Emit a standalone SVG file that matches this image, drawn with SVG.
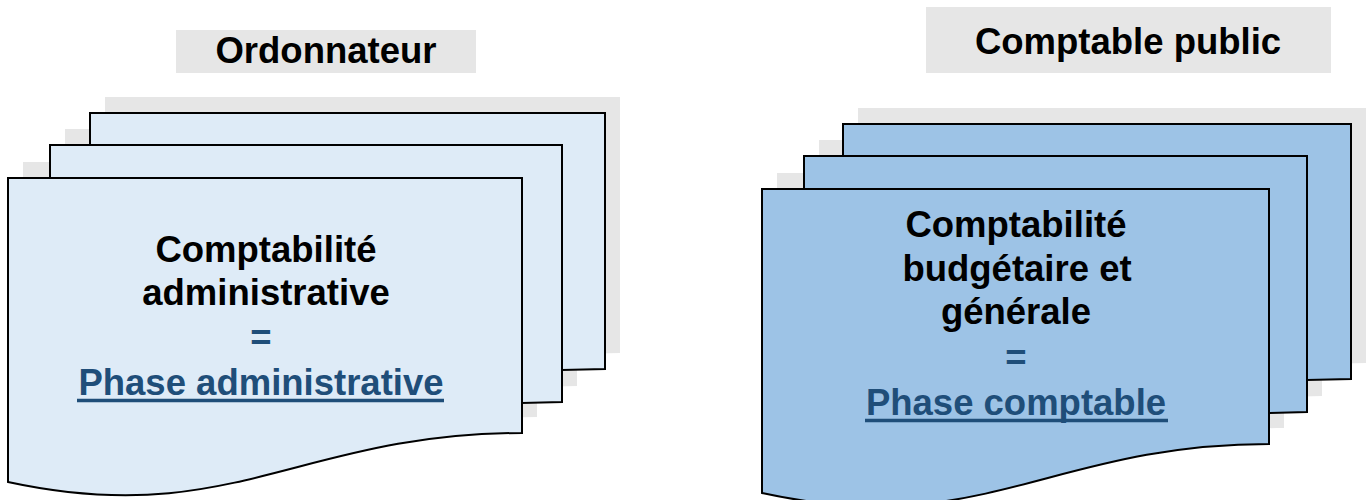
<svg xmlns="http://www.w3.org/2000/svg" width="1369" height="500" viewBox="0 0 1369 500">
  <style>
    .title-box { fill: #E6E6E6; }
    .shadow { fill: #E6E6E6; }
    .sheet { stroke: #000; stroke-width: 2; stroke-linejoin: miter; }
    .light { fill: #DEEBF7; }
    .mid { fill: #9DC3E6; }
    .lbl { font-family: "Liberation Sans", Arial, sans-serif; font-weight: bold; font-size: 36.5px; text-anchor: middle; fill: #000; }
    .blue { fill: #1F4E79; }
    .uline { stroke: #1F4E79; stroke-width: 3.5; }
  </style>

  <!-- Titles -->
  <g id="title-ordonnateur">
    <rect class="title-box" x="176" y="30" width="300" height="43"/>
    <text class="lbl" x="326" y="63">Ordonnateur</text>
  </g>
  <g id="title-comptable">
    <rect class="title-box" x="926" y="7" width="405" height="66"/>
    <text class="lbl" x="1128" y="54">Comptable public</text>
  </g>

  <!-- Left stack: administrative accounting -->
  <g id="stack-administrative">
    <g class="shadow" transform="translate(15,-16)">
      <path d="M90,113 H605 V369 L562,370 V145 H90 Z"/>
      <path d="M50,145 H562 V402 L522,403 V178 H50 Z"/>
      <path d="M8,178 H522 V433 C300,433 230,530 8,482 Z"/>
    </g>
    <path class="sheet light" d="M90,145 V113 H605 V369 L562,370 V145 Z"/>
    <path class="sheet light" d="M50,178 V145 H562 V402 L522,403 V178 Z"/>
    <path class="sheet light" d="M8,178 H522 V433 C300,433 230,530 8,482 Z"/>
    <text class="lbl" x="266" y="262">Comptabilité</text>
    <text class="lbl" x="266" y="305">administrative</text>
    <text class="lbl blue" x="261" y="350">=</text>
    <text class="lbl blue" x="261" y="395">Phase administrative</text>
    <line class="uline" x1="77" y1="400.5" x2="444" y2="400.5"/>
  </g>

  <!-- Right stack: budget and general accounting -->
  <g id="stack-comptable">
    <g class="shadow" transform="translate(15,-16)">
      <path d="M843,124 H1351 V379 L1307,380 V156 H843 Z"/>
      <path d="M804,156 H1307 V412 L1269,413 V189 H804 Z"/>
      <path d="M762,189 H1269 V444 C1050,444 981,541 762,493 Z"/>
    </g>
    <path class="sheet mid" d="M843,156 V124 H1351 V379 L1307,380 V156 Z"/>
    <path class="sheet mid" d="M804,189 V156 H1307 V412 L1269,413 V189 Z"/>
    <path class="sheet mid" d="M762,189 H1269 V444 C1050,444 981,541 762,493 Z"/>
    <text class="lbl" x="1016" y="237">Comptabilité</text>
    <text class="lbl" x="1017" y="281">budgétaire et</text>
    <text class="lbl" x="1016" y="324">générale</text>
    <text class="lbl blue" x="1016" y="370">=</text>
    <text class="lbl blue" x="1016" y="415">Phase comptable</text>
    <line class="uline" x1="865" y1="420.5" x2="1168" y2="420.5"/>
  </g>

  <g id="connectors"/>
</svg>
